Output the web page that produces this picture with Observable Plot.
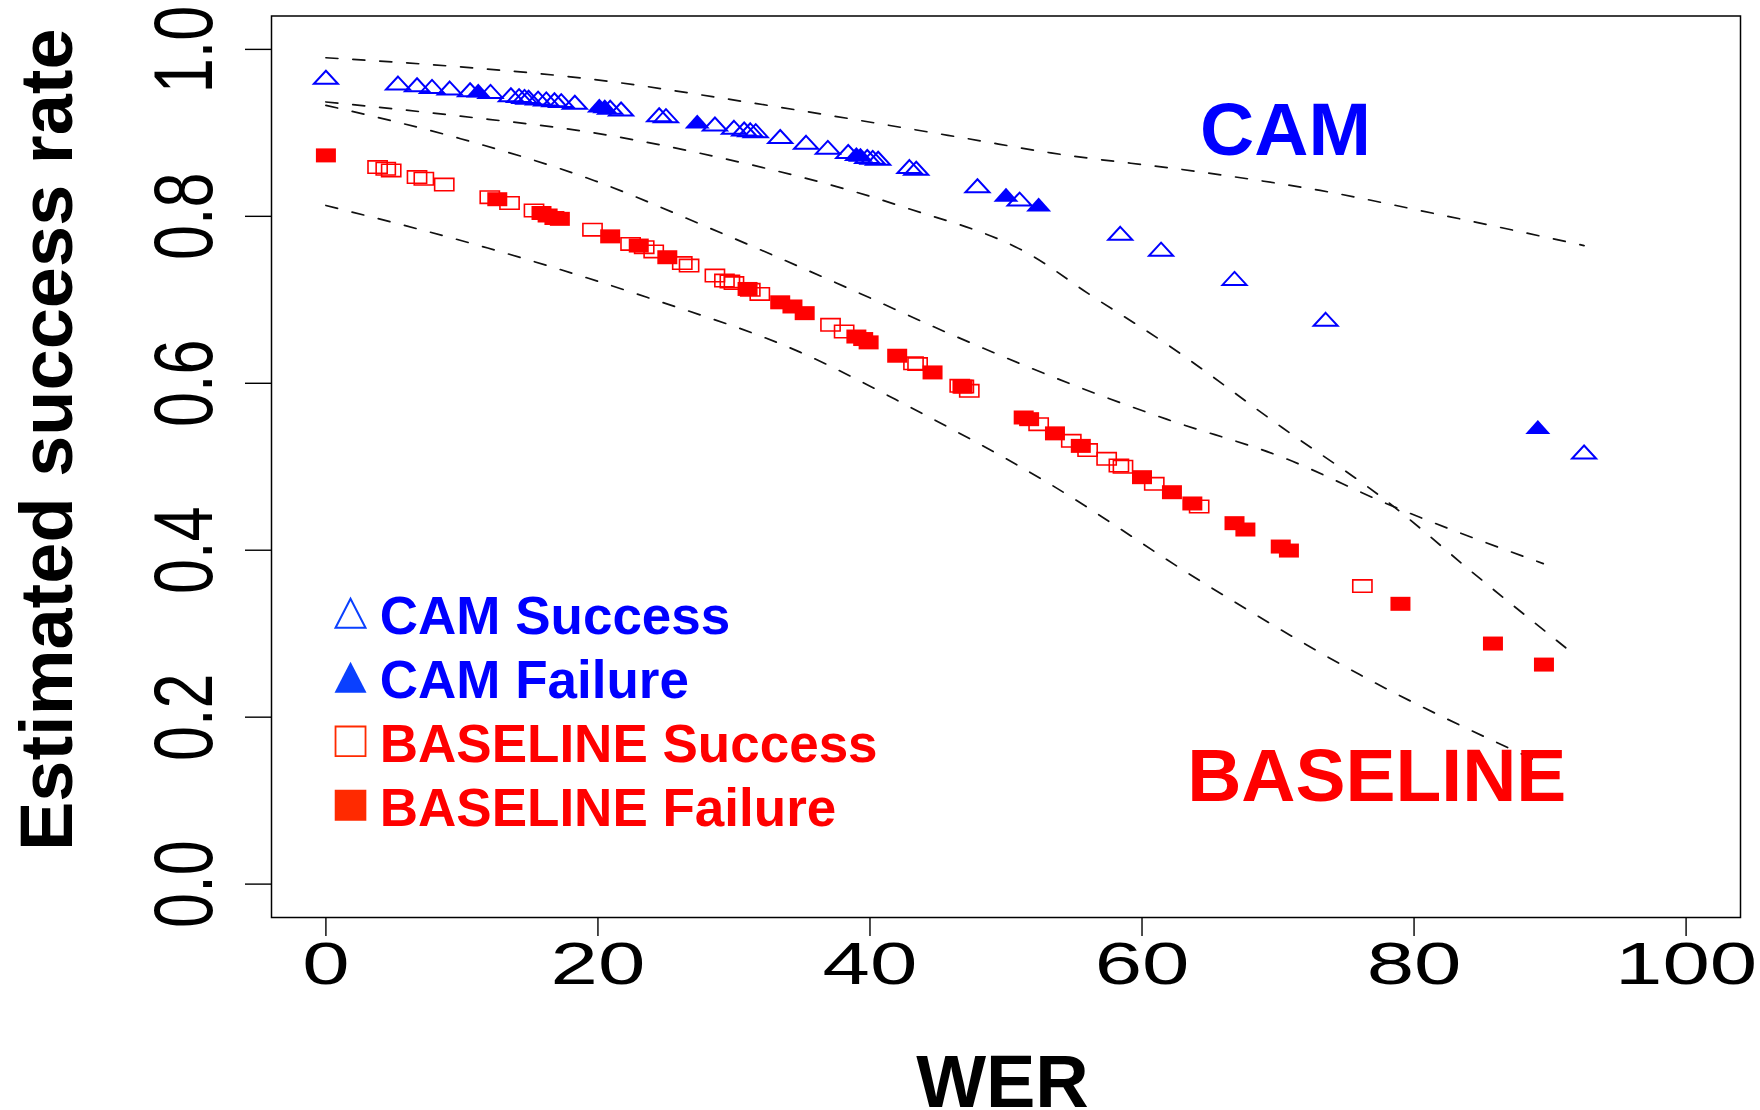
<!DOCTYPE html>
<html><head><meta charset="utf-8">
<script src="https://cdn.jsdelivr.net/npm/d3@7"></script>
<script src="https://cdn.jsdelivr.net/npm/@observablehq/plot@0.6"></script>
<style>html,body{margin:0;padding:0;background:#fff;overflow:hidden} svg{display:block}</style>
</head><body><div id="chart"></div>
<script>
// ---------- data ----------
const xTicks = [0, 20, 40, 60, 80, 100];
const yTicks = [0, 0.2, 0.4, 0.6, 0.8, 1.0];
const xLabel = "WER";
const yLabel = "Estimated success rate";
const legendLabels = ["CAM Success", "CAM Failure", "BASELINE Success", "BASELINE Failure"];
const groupLabels = ["CAM", "BASELINE"];

// [WER, estimated success rate]
const camSuccess = [
  [0, 0.964], [5.3, 0.957], [6.7, 0.955], [7.8, 0.953], [9.1, 0.951], [10.6, 0.949],
  [12.1, 0.947], [13.6, 0.943], [14.2, 0.942], [14.6, 0.941], [14.9, 0.940], [15.6, 0.939],
  [16.2, 0.938], [16.8, 0.937], [17.3, 0.936], [18.3, 0.934], [20.9, 0.928], [21.7, 0.926],
  [24.5, 0.919], [25.0, 0.918], [28.6, 0.908], [30.0, 0.904], [30.75, 0.902], [31.2, 0.901],
  [31.6, 0.900], [33.4, 0.893], [35.3, 0.886], [36.9, 0.880], [38.4, 0.875], [39.8, 0.869],
  [40.2, 0.868], [40.6, 0.867], [42.9, 0.857], [43.4, 0.855], [47.9, 0.834], [51.0, 0.818],
  [58.4, 0.777], [61.4, 0.758], [66.8, 0.723], [73.5, 0.674], [92.5, 0.515]
];
const camFailure = [
  [11.2, 0.948], [20.1, 0.930], [20.5, 0.929], [27.3, 0.911], [39.0, 0.872], [39.3, 0.871],
  [50.0, 0.823], [52.4, 0.8115], [89.1, 0.545]
];
const baseSuccess = [
  [3.8, 0.859], [4.4, 0.857], [4.8, 0.855], [6.7, 0.847], [7.2, 0.845], [8.7, 0.838],
  [12.05, 0.823], [13.5, 0.816], [15.3, 0.807], [19.6, 0.784], [22.4, 0.767], [23.4, 0.763],
  [24.1, 0.758], [26.2, 0.744], [26.7, 0.741], [28.6, 0.729], [29.3, 0.723], [29.7, 0.722],
  [30.0, 0.720], [31.2, 0.712], [31.9, 0.707], [37.1, 0.670], [38.1, 0.662], [43.2, 0.624],
  [43.5, 0.623], [46.6, 0.597], [46.9, 0.596], [47.3, 0.591], [52.4, 0.551], [54.8, 0.531],
  [56.0, 0.520], [57.4, 0.5095], [58.3, 0.5015], [58.6, 0.500], [60.9, 0.4795], [64.2, 0.4524],
  [76.2, 0.357]
];
const baseFailure = [
  [0, 0.873], [12.6, 0.8205], [15.85, 0.804], [16.3, 0.801], [16.8, 0.798], [17.2, 0.797],
  [20.9, 0.776], [23.0, 0.765], [25.1, 0.751], [31.0, 0.713], [33.4, 0.697], [34.3, 0.692],
  [35.2, 0.684], [39.0, 0.656], [39.5, 0.653], [39.9, 0.649], [42.0, 0.633], [44.6, 0.613],
  [46.8, 0.596], [51.3, 0.559], [51.7, 0.557], [53.6, 0.540], [55.5, 0.525], [60.0, 0.4875],
  [62.2, 0.4695], [63.7, 0.456], [66.8, 0.4324], [67.6, 0.4248], [70.2, 0.4044], [70.8, 0.3996],
  [79.0, 0.3358], [85.8, 0.2882], [89.55, 0.263]
];
// dashed band curves
const camUpper = [[0, 0.990], [9.9, 0.979], [19.7, 0.964], [30.9, 0.937], [47.2, 0.893], [53.3, 0.876],
  [63.9, 0.854], [73.1, 0.831], [81.6, 0.803], [92.5, 0.765]];
const camLower = [[0, 0.937], [9.9, 0.920], [19.7, 0.900], [28.5, 0.872], [42.3, 0.812], [52.1, 0.751],
  [56.0, 0.708], [61.8, 0.647], [70.3, 0.547], [77.9, 0.460], [84.7, 0.368], [91.7, 0.276]];
const baseUpper = [[0, 0.933], [9.9, 0.893], [19.7, 0.843], [28.2, 0.786], [38.8, 0.711], [45.9, 0.659],
  [56.7, 0.587], [61.8, 0.557], [70.3, 0.5115], [78.3, 0.4536], [89.5, 0.384]];
const baseLower = [[0, 0.813], [11.9, 0.762], [23.6, 0.703], [34.9, 0.637], [43.0, 0.571], [53.0, 0.4815],
  [64.6, 0.360], [76.0, 0.251], [89.5, 0.144]];

// ---------- styles ----------
const FONT = '"Liberation Sans", Arial, Helvetica, sans-serif';
const BLUE = "#0000ff", RED = "#ff0000";
const LEG_BLUE = "#0a40ff", LEG_RED = "#ff2a00";
const sym = pts => ({draw(ctx) { ctx.moveTo(pts[0][0], pts[0][1]); for (let k = 1; k < pts.length; ++k) ctx.lineTo(pts[k][0], pts[k][1]); ctx.closePath(); }});
const triOpen = sym([[0, -8.7], [12, 4.3], [-12, 4.3]]);
const triFill = sym([[0, -9.3], [12.5, 4.7], [-12.5, 4.7]]);
const sqOpen = sym([[-9.6, -6.2], [9.6, -6.2], [9.6, 6.2], [-9.6, 6.2]]);
const sqFill = sym([[-10, -7], [10, -7], [10, 7], [-10, 7]]);
const legTriOpen = sym([[0, -14.5], [15, 14.5], [-15, 14.5]]);
const legTriFill = sym([[0, -15.5], [16, 15.5], [-16, 15.5]]);
const legSqOpen = sym([[-15, -14.8], [15, -14.8], [15, 14.8], [-15, 14.8]]);
const legSqFill = sym([[-15.8, -15.5], [15.8, -15.5], [15.8, 15.5], [-15.8, 15.5]]);

const X = d => d[0], Y = d => d[1];
const dash = {x: X, y: Y, stroke: "#111", strokeWidth: 1.7, strokeDasharray: "12,15", curve: "monotone-x"};

// legend layout (data units, like R legend placement)
const legX = 1.81, legTextX = 3.96, legTop = 0.300, legStep = 0.0767, legMarkerLift = 0.0245;
const legSpecs = [
  {symbol: legTriOpen, fill: "none", stroke: LEG_BLUE, strokeWidth: 2, text: BLUE},
  {symbol: legTriFill, fill: LEG_BLUE, stroke: "none", strokeWidth: 0, text: BLUE},
  {symbol: legSqOpen, fill: "none", stroke: LEG_RED, strokeWidth: 1.8, text: RED},
  {symbol: legSqFill, fill: LEG_RED, stroke: "none", strokeWidth: 0, text: RED}
];
const legendMarks = legendLabels.flatMap((label, i) => {
  const s = legSpecs[i];
  const base = legTop - i * legStep;
  return [
    Plot.dot([label], {x: () => legX, y: () => base + legMarkerLift, symbol: s.symbol, r: 10, fill: s.fill, stroke: s.stroke, strokeWidth: s.strokeWidth}),
    Plot.text([label], {x: () => legTextX, y: () => base, text: d => d, textAnchor: "start", lineAnchor: "bottom", fill: s.text, fontSize: 53, fontWeight: "bold", fontFamily: FONT})
  ];
});

const svg = Plot.plot({
  width: 1760,
  height: 1110,
  marginLeft: 271,
  marginRight: 20,
  marginTop: 15.5,
  marginBottom: 193,
  x: {domain: [-4, 104]},
  y: {domain: [-0.04, 1.04]},
  style: {fontFamily: FONT, background: "#fff", color: "#000"},
  marks: [
    Plot.axisX({ticks: xTicks, tickSize: 19, tickFormat: () => "", label: null, strokeWidth: 1.4}),
    Plot.axisY({ticks: yTicks, tickSize: 26, tickFormat: () => "", label: null, strokeWidth: 1.4}),
    Plot.text(xTicks, {x: d => d, text: d => String(d), frameAnchor: "bottom", dy: 66, lineAnchor: "bottom", textAnchor: "middle", fontSize: 60, fontFamily: FONT, fill: "#000", ariaLabel: "x-tick-labels"}),
    Plot.text(yTicks, {y: d => d, text: d => d.toFixed(1), frameAnchor: "left", dx: -59.3, rotate: -90, lineAnchor: "bottom", textAnchor: "middle", fontSize: 63, fontFamily: FONT, fill: "#000", ariaLabel: "y-tick-labels"}),
    Plot.text([xLabel], {text: d => d, frameAnchor: "bottom", dx: -3.5, dy: 189, lineAnchor: "bottom", textAnchor: "middle", fontSize: 74, fontWeight: "bold", fontFamily: FONT, fill: "#000"}),
    Plot.text([yLabel], {text: d => d, frameAnchor: "left", dx: -199.3, dy: -27, rotate: -90, lineAnchor: "bottom", textAnchor: "middle", fontSize: 74, fontWeight: "bold", fontFamily: FONT, fill: "#000"}),
    Plot.line(camUpper, dash),
    Plot.line(camLower, dash),
    Plot.line(baseUpper, dash),
    Plot.line(baseLower, dash),
    Plot.dot(camSuccess, {x: X, y: Y, symbol: triOpen, r: 6, fill: "none", stroke: BLUE, strokeWidth: 2}),
    Plot.dot(camFailure, {x: X, y: Y, symbol: triFill, r: 6, fill: BLUE, stroke: "none"}),
    Plot.dot(baseSuccess, {x: X, y: Y, symbol: sqOpen, r: 6, fill: "none", stroke: RED, strokeWidth: 1.6}),
    Plot.dot(baseFailure, {x: X, y: Y, symbol: sqFill, r: 6, fill: RED, stroke: "none"}),
    Plot.text([groupLabels[0]], {x: () => 70.55, y: () => 0.874, text: d => d, lineAnchor: "bottom", textAnchor: "middle", fill: BLUE, fontSize: 75, fontWeight: "bold", fontFamily: FONT}),
    Plot.text([groupLabels[1]], {x: () => 77.26, y: () => 0.099, text: d => d, lineAnchor: "bottom", textAnchor: "middle", fill: RED, fontSize: 75, fontWeight: "bold", fontFamily: FONT}),
    ...legendMarks,
    Plot.frame({stroke: "#000", strokeWidth: 1.5})
  ]
});

// tick labels in the reference are drawn horizontally widened: scale each
// label about its own anchor point, whatever way Plot positioned it
function stretch(nodes, sx, sy) {
  nodes.forEach(node => {
    const t = node.getAttribute("transform") || "";
    const xa = node.getAttribute("x"), ya = node.getAttribute("y");
    const ax = xa && !/em$/.test(xa) ? parseFloat(xa) || 0 : 0;
    const ay = ya && !/em$/.test(ya) ? parseFloat(ya) || 0 : 0;
    node.setAttribute("transform", `${t} translate(${ax},${ay}) scale(${sx},${sy}) translate(${-ax},${-ay})`.trim());
  });
}
function labelTexts(name, size) {
  let nodes = Array.from(svg.querySelectorAll(`g[aria-label="${name}"] text`));
  if (!nodes.length) nodes = Array.from(svg.querySelectorAll(`g[font-size="${size}"] text`));
  return nodes;
}
stretch(labelTexts("x-tick-labels", 60), 1.42, 1);
stretch(labelTexts("y-tick-labels", 63), 1, 1.33);

document.getElementById("chart").appendChild(svg);
</script>
</body></html>
